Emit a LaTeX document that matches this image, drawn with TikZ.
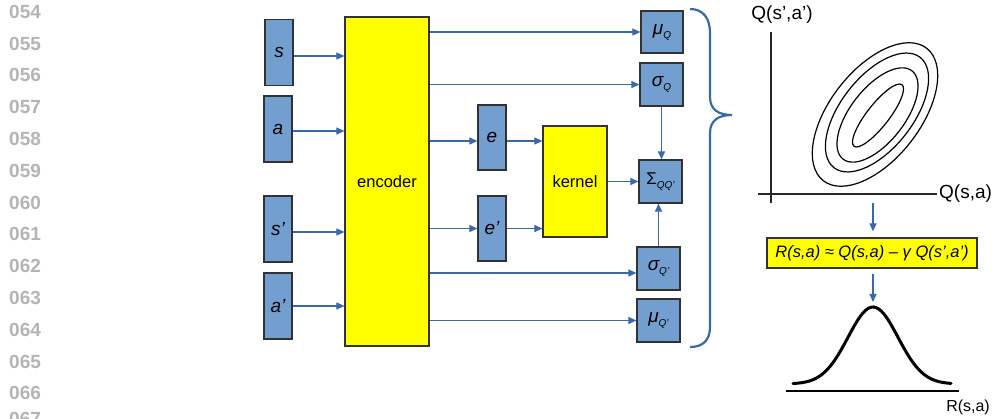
\documentclass[tikz,border=0pt]{standalone}
\usepackage{fontspec}
\setmainfont{Liberation Sans}
\usetikzlibrary{arrows.meta}

\definecolor{boxblue}{RGB}{114,158,208}
\definecolor{linkblue}{RGB}{58,104,172}
\definecolor{numgray}{RGB}{180,180,180}
\definecolor{boxedge}{RGB}{50,50,50}
\definecolor{hiyellow}{RGB}{255,255,0}

% small italic subscript used in the Gaussian parameter boxes
\newcommand{\parsub}[1]{\raisebox{-0.4ex}{\fontsize{10}{10}\selectfont\itshape #1}}

\begin{document}
\begin{tikzpicture}[x=1pt,y=-1pt,
  numlbl/.style={anchor=west, inner sep=0pt, text=numgray, font=\fontsize{19}{19}\selectfont\bfseries},
  inbox/.style={draw=boxedge, line width=1.2pt, fill=boxblue, inner sep=0pt,
                font=\fontsize{19}{19}\selectfont\itshape},
  tallbox/.style={inbox, minimum width=28pt, minimum height=66pt},
  sqbox/.style={inbox, minimum width=43pt, minimum height=43pt},
  ybox/.style={draw=boxedge, line width=1.2pt, fill=hiyellow, inner sep=0pt,
               font=\fontsize{16.5}{16.5}\selectfont},
  link/.style={draw=linkblue, line width=1.1pt, -{Triangle[length=8pt,width=7pt]}},
  axisline/.style={draw=black!85, line width=1.3pt},
  contour/.style={draw=black, line width=1.2pt},
  axlbl/.style={inner sep=0pt, font=\fontsize{19}{19}\selectfont}
]
\useasboundingbox (0,0) rectangle (992,419);

% ---- line numbers down the left margin
\foreach \n [count=\i from 0] in {054,055,056,057,058,059,060,061,062,063,064,065,066}
  \node[numlbl] (ln\n) at (9,{11.7+31.8*\i}) {\n};
\node[numlbl] (ln067) at (9,419) {067};

% ---- inputs
\node[tallbox] (s)  at (279,52.5) {s};
\node[tallbox] (a)  at (278,129)  {a};
\node[tallbox] (s2) at (278,229)  {s’};
\node[tallbox] (a2) at (278,306)  {a’};

% ---- encoder
\node[ybox, minimum width=84pt, minimum height=329pt] (enc) at (387,181.5) {encoder};

% ---- embeddings and kernel
\node[inbox, minimum width=28pt, minimum height=65pt] (e)  at (492,137.5) {e};
\node[inbox, minimum width=28pt, minimum height=65pt] (e2) at (492,228.5) {e’};
\node[ybox, minimum width=64pt, minimum height=111pt] (ker) at (575,181.5) {kernel};

% ---- Gaussian parameters
\node[sqbox, minimum width=42pt, minimum height=42pt] (muQ) at (662,32) {μ\parsub{Q}};
\node[sqbox] (sgQ)  at (661.5,84.5)  {σ\parsub{Q}};
\node[sqbox] (cov)  at (660.5,181.5) {{\upshape\fontsize{17}{17}\selectfont Σ}\parsub{QQ’}};
\node[sqbox] (sgQ2) at (658.5,268.5) {σ\parsub{Q’}};
\node[sqbox] (muQ2) at (658.5,320.5) {μ\parsub{Q’}};

% ---- input arrows
\draw[link] ([yshift=-3.5pt]s.east) -- ([yshift=-3.5pt]s.east -| enc.west);
\draw[link] ([yshift=-2pt]a.east) -- ([yshift=-2pt]a.east -| enc.west);
\draw[link] ([yshift=-3pt]s2.east) -- ([yshift=-3pt]s2.east -| enc.west);
\draw[link] (a2.east) -- (a2.east -| enc.west);

% ---- encoder outputs
\draw[link] (enc.east |- muQ.west) -- (muQ.west);
\draw[link] (enc.east |- sgQ.west) -- (sgQ.west);
\draw[link] ([yshift=-3.5pt]enc.east |- e.west) -- ([yshift=-3.5pt]e.west);
\draw[link] (enc.east |- e2.west) -- (e2.west);
\draw[link] ([yshift=-4.5pt]enc.east |- sgQ2.west) -- ([yshift=-4.5pt]sgQ2.west);
\draw[link] (enc.east |- muQ2.west) -- (muQ2.west);

% ---- kernel
\draw[link] ([yshift=-3.5pt]e.east) -- ([yshift=-3.5pt]e.east -| ker.west);
\draw[link] (e2.east) -- (e2.east -| ker.west);
\draw[link] (ker.east) -- (cov.west);
\draw[link] (sgQ.south) -- (sgQ.south |- cov.north);
\draw[link] (sgQ2.north) -- (sgQ2.north |- cov.south);

% ---- brace grouping the parameters
\draw[draw=linkblue, line width=2.2pt]
  (690,9) .. controls (703,9) and (710,18) .. (710,33)
  -- (710,97) .. controls (710,110) and (719,115) .. (732,115)
  .. controls (719,115) and (710,120) .. (710,133)
  -- (710,327) .. controls (710,340) and (703,347) .. (690,347);

% ---- joint distribution of Q(s,a) and Q(s',a')
\coordinate (yaxtop) at (771,32);
\coordinate (yaxbot) at (771,203);
\coordinate (xaxl) at (758,194);
\coordinate (xaxr) at (937,194);
\draw[axisline] (yaxtop) -- (yaxbot);
\draw[axisline] (xaxl) -- (xaxr);
\node[axlbl] (qy) at (782,15) {Q(s’,a’)};
\node[axlbl, anchor=west] (qx) at (939,194) {Q(s,a)};

\draw[contour, shift={(875pt,-114.5pt)}, rotate=52] (0,0) ellipse [x radius=84pt, y radius=45pt];
\draw[contour, shift={(877pt,-112.5pt)}, rotate=52] (0,0) ellipse [x radius=70pt, y radius=36pt];
\draw[contour, shift={(877.5pt,-115pt)}, rotate=52] (0,0) ellipse [x radius=56pt, y radius=27pt];
\draw[contour, shift={(878pt,-115.5pt)}, rotate=52] (0,0) ellipse [x radius=39pt, y radius=11pt];

% ---- reward relation
\node[ybox, minimum width=210pt, minimum height=30pt,
      font=\fontsize{16.5}{16.5}\selectfont\itshape] (rel) at (872,253)
      {R(s,a) ≈ Q(s,a) – γ Q(s’,a’)};
\coordinate (plotfoot) at (873,203);
\draw[link, shorten >=6pt] (plotfoot) -- (plotfoot |- rel.north);

% ---- resulting reward distribution
\coordinate (peak) at (873,307);
\draw[link, shorten <=5pt, shorten >=5pt] (peak |- rel.south) -- (peak);
\draw[line width=3pt, line cap=round]
  plot[smooth, domain=-80:78, samples=60] ({873+\x},{384-77*exp(-(\x*\x)/1250)});
\coordinate (basel) at (786,391);
\coordinate (baser) at (959,391);
\draw[line width=2.6pt] (basel) -- (baser);
\node[axlbl, anchor=east, font=\fontsize{16}{16}\selectfont] (rx) at (990,407) {R(s,a)};
\end{tikzpicture}
\end{document}
